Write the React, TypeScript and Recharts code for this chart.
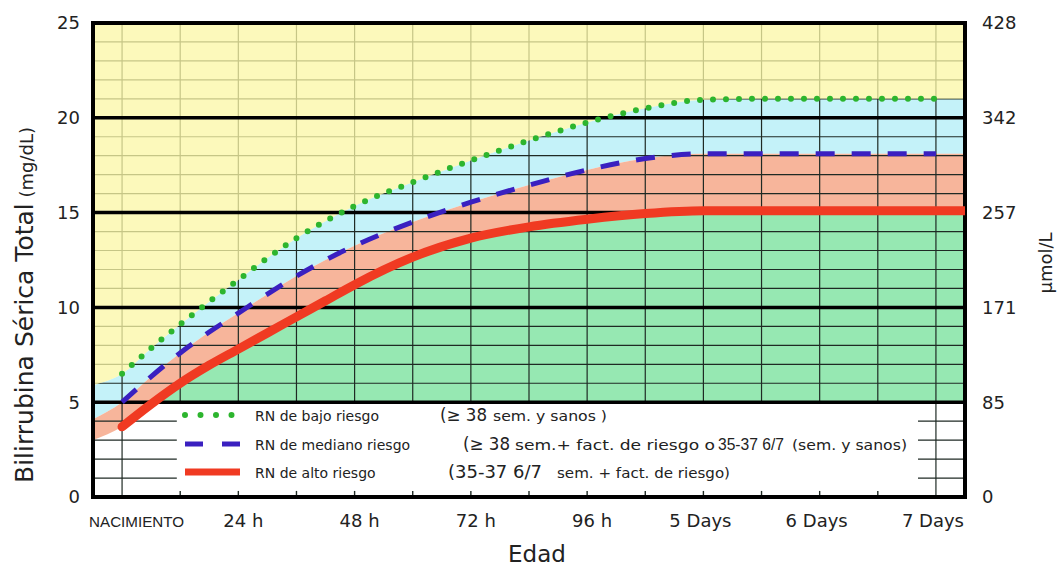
import React from 'react';
import { ComposedChart, Area, Line, XAxis, YAxis, ReferenceLine } from 'recharts';

// ---- data ----
const hours = [0, 6, 12, 18, 24, 30, 36, 42, 48, 60, 72, 84, 96, 108, 120, 132, 144, 156, 168];
const bajoRiesgo = [6.5, 7.85, 9.1, 10.3, 11.45, 12.6, 13.65, 14.55, 15.35, 16.6, 17.75, 18.8, 19.75, 20.5, 20.95, 21.0, 21.0, 21.0, 21.0];
const medianoRiesgo = [5.0, 6.35, 7.6, 8.7, 9.7, 10.7, 11.65, 12.5, 13.25, 14.5, 15.55, 16.45, 17.25, 17.85, 18.1, 18.1, 18.1, 18.1, 18.1];
const altoRiesgo = [3.7, 4.9, 6.0, 6.95, 7.8, 8.65, 9.5, 10.35, 11.2, 12.65, 13.65, 14.25, 14.65, 14.95, 15.1, 15.1, 15.1, 15.1, 15.1];

// zone edges beyond the curves (left of birth, right of 7 days)
const edgeHours = [-6, 174];
const edgeBajo = [5.9, 21.0];
const edgeMediano = [4.1, 18.1];
const edgeAlto = [3.0, 15.1];

const xTickValues = [0, 24, 48, 72, 96, 120, 144, 168];
const xTickLabels = ['NACIMIENTO', '24 h', '48 h', '72 h', '96 h', '5 Days', '6 Days', '7 Days'];
const yTickValues = [0, 5, 10, 15, 20, 25];
const umolLabels = ['0', '85', '171', '257', '342', '428'];

const thinLevels = [6, 7, 8, 9, 11, 12, 13, 14, 16, 17, 18, 19, 21, 22, 23, 24];
const lowLevels = [1, 2, 3, 4];
const thickLevels = [5, 10, 15, 20];
const midHours = [12, 24, 36, 48, 60, 72, 84, 96, 108, 120, 132, 144, 156];
const fullHours = [0, 168];

const SANS = 'DejaVu Sans';
const NARROW = 'Liberation Sans';

const legendNames = ['RN de bajo riesgo', 'RN de mediano riesgo', 'RN de alto riesgo'];
// notes: [text, x, width, fontSize, family] segments per legend row
const legendNotes: [string, number, number, number, string][][] = [
  [['(≥ 38', 440, 47, 17, SANS], ['sem. y sanos )', 493, 114, 14, SANS]],
  [['(≥ 38', 463, 47, 17, SANS], ['sem.+ fact. de riesgo o', 515, 200, 14, SANS], ['35-37 6/7', 718, 66, 17, NARROW], ['(sem. y sanos)', 792, 115, 13.5, SANS]],
  [['(35-37 6/7', 448, 94, 17, SANS], ['sem. + fact. de riesgo)', 557, 173, 14, SANS]],
];

const X_MIN = -6;
const X_MAX = 174;

type Row = {
  h: number;
  bajo: number | null;
  mediano: number | null;
  alto: number | null;
  cyan: [number, number];
  salmon: [number, number];
  greenBand: [number, number];
  yellow: [number, number];
};

const makeRow = (h: number, top: number, mid: number, low: number, bajo: number | null, mediano: number | null, alto: number | null): Row => ({
  h, bajo, mediano, alto,
  cyan: [mid, top],
  salmon: [low, mid],
  greenBand: [5, Math.max(5, low)],
  yellow: [top, 25],
});

const rows: Row[] = [
  makeRow(edgeHours[0], edgeBajo[0], edgeMediano[0], edgeAlto[0], null, null, null),
  ...hours.map((h, i) => makeRow(h, bajoRiesgo[i], medianoRiesgo[i], altoRiesgo[i], bajoRiesgo[i], medianoRiesgo[i], altoRiesgo[i])),
  makeRow(edgeHours[1], edgeBajo[1], edgeMediano[1], edgeAlto[1], null, null, edgeAlto[1]),
];

const GRID = '#1f2a24';
const GREEN = '#2db52e';
const BLUE = '#3a20c0';
const RED = '#f03a22';

const XTick = (props: any) => {
  const { x, y, payload } = props;
  const i = xTickValues.indexOf(payload.value);
  const label = xTickLabels[i];
  if (i === 0) {
    return (
      <text x={x - 33} y={y + 30} textAnchor="start" fontFamily={NARROW} fontSize={15} fill="#222" textLength={95} lengthAdjust="spacingAndGlyphs">
        {label}
      </text>
    );
  }
  const dx = label.indexOf('Days') >= 0 ? -3 : 5;
  return (
    <text x={x + dx} y={y + 30} textAnchor="middle" fontFamily={SANS} fontSize={18} fill="#222">
      {label}
    </text>
  );
};

const legendY = [415, 444, 472];

export default function App() {
  return (
    <div style={{ position: 'absolute', left: 0, top: 0, width: 1063, height: 570, background: '#fff' }}>
      <ComposedChart width={1063} height={570} data={rows} margin={{ top: 23, right: 0, bottom: 0, left: 0 }}>
        <XAxis
          dataKey="h"
          type="number"
          domain={[X_MIN, X_MAX]}
          ticks={xTickValues}
          interval={0}
          allowDataOverflow
          height={73}
          tickLine={false}
          axisLine={false}
          tickSize={0}
          tickMargin={0}
          tick={(p: any) => <XTick {...p} />}
        />
        <YAxis
          yAxisId="left"
          domain={[0, 25]}
          ticks={yTickValues}
          interval={0}
          allowDataOverflow
          width={93}
          tickLine={false}
          axisLine={false}
          tickSize={0}
          tickMargin={13}
          tick={{ fontFamily: SANS, fontSize: 18, fill: '#222' }}
        />
        <YAxis
          yAxisId="right"
          orientation="right"
          domain={[0, 25]}
          ticks={yTickValues}
          interval={0}
          allowDataOverflow
          width={98}
          tickLine={false}
          axisLine={false}
          tickSize={0}
          tickMargin={17}
          tickFormatter={(v: number) => umolLabels[yTickValues.indexOf(v)]}
          tick={{ fontFamily: SANS, fontSize: 18, fill: '#222', textAnchor: 'start' }}
        />

        {/* zones */}
        <Area yAxisId="left" dataKey="cyan" type="monotone" stroke="none" fill="#c4f2f9" fillOpacity={1} isAnimationActive={false} dot={false} activeDot={false} zIndex={101} />
        <Area yAxisId="left" dataKey="salmon" type="monotone" stroke="none" fill="#f7b59b" fillOpacity={1} isAnimationActive={false} dot={false} activeDot={false} zIndex={102} />
        <Area yAxisId="left" dataKey="greenBand" type="monotone" stroke="none" fill="#96e8b2" fillOpacity={1} isAnimationActive={false} dot={false} activeDot={false} zIndex={103} />

        {/* thin grid */}
        {thinLevels.map((lv) => (
          <ReferenceLine key={'t' + lv} yAxisId="left" y={lv} stroke={GRID} strokeWidth={1.2} ifOverflow="visible" zIndex={110} />
        ))}
        {lowLevels.map((lv) => (
          <ReferenceLine key={'la' + lv} yAxisId="left" segment={[{ x: X_MIN, y: lv }, { x: 11.3, y: lv }]} stroke={GRID} strokeWidth={1.2} ifOverflow="visible" zIndex={110} />
        ))}
        {lowLevels.map((lv) => (
          <ReferenceLine key={'lb' + lv} yAxisId="left" segment={[{ x: 164.3, y: lv }, { x: X_MAX, y: lv }]} stroke={GRID} strokeWidth={1.2} ifOverflow="visible" zIndex={110} />
        ))}
        {midHours.map((h) => (
          <ReferenceLine key={'v' + h} yAxisId="left" segment={[{ x: h, y: 5 }, { x: h, y: 25 }]} stroke={GRID} strokeWidth={1.2} ifOverflow="visible" zIndex={110} />
        ))}
        {midHours.map((h) => (
          <ReferenceLine key={'k' + h} yAxisId="left" segment={[{ x: h, y: 0 }, { x: h, y: 0.32 }]} stroke={GRID} strokeWidth={1.4} ifOverflow="visible" zIndex={110} />
        ))}
        {fullHours.map((h) => (
          <ReferenceLine key={'f' + h} yAxisId="left" x={h} stroke={GRID} strokeWidth={1.2} ifOverflow="visible" zIndex={110} />
        ))}

        {/* yellow zone above the low-risk curve (tints the grid beneath it) */}
        <Area yAxisId="left" dataKey="yellow" type="monotone" stroke="none" fill="#fbf7a6" fillOpacity={0.76} isAnimationActive={false} dot={false} activeDot={false} zIndex={120} />

        {/* thick lines and frame */}
        {thickLevels.map((lv) => (
          <ReferenceLine key={'T' + lv} yAxisId="left" y={lv} stroke="#000" strokeWidth={3.5} ifOverflow="visible" zIndex={130} />
        ))}
        <ReferenceLine yAxisId="left" y={0} stroke="#000" strokeWidth={4} strokeLinecap="square" ifOverflow="visible" zIndex={131} />
        <ReferenceLine yAxisId="left" y={25} stroke="#000" strokeWidth={4} strokeLinecap="square" ifOverflow="visible" zIndex={131} />
        <ReferenceLine yAxisId="left" x={X_MIN} stroke="#000" strokeWidth={4} strokeLinecap="square" ifOverflow="visible" zIndex={131} />
        <ReferenceLine yAxisId="left" x={X_MAX} stroke="#000" strokeWidth={4} strokeLinecap="square" ifOverflow="visible" zIndex={131} />

        {/* curves */}
        <Line yAxisId="left" dataKey="bajo" type="monotone" stroke={GREEN} strokeWidth={6} strokeDasharray="0 13" strokeLinecap="round" dot={false} activeDot={false} isAnimationActive={false} zIndex={140} />
        <Line yAxisId="left" dataKey="mediano" type="monotone" stroke={BLUE} strokeWidth={5} strokeDasharray="19 17" dot={false} activeDot={false} isAnimationActive={false} zIndex={141} />
        <Line yAxisId="left" dataKey="alto" type="monotone" stroke={RED} strokeWidth={9} strokeLinecap="round" dot={false} activeDot={false} isAnimationActive={false} zIndex={142} />
      </ComposedChart>

      {/* titles and legend */}
      <svg width={1063} height={570} style={{ position: 'absolute', left: 0, top: 0, pointerEvents: 'none' }}>
        <text transform="translate(33, 483) rotate(-90)" textAnchor="start" fontFamily={SANS} fontSize={25} fill="#222">
          Bilirrubina Sérica Total<tspan fontSize={18}> (mg/dL)</tspan>
        </text>
        <text transform="translate(1052, 263) rotate(-90)" textAnchor="middle" fontFamily={SANS} fontSize={18} fill="#222">
          µmol/L
        </text>
        <text x={537} y={562} textAnchor="middle" fontFamily={SANS} fontSize={23} fill="#222">
          Edad
        </text>

        <line x1={185} y1={legendY[0]} x2={232} y2={legendY[0]} stroke={GREEN} strokeWidth={6} strokeDasharray="0 15.5" strokeLinecap="round" />
        <line x1={185} y1={legendY[1]} x2={240} y2={legendY[1]} stroke={BLUE} strokeWidth={5} strokeDasharray="18 19" />
        <line x1={185} y1={legendY[2]} x2={240} y2={legendY[2]} stroke={RED} strokeWidth={7} />

        <g fill="#222">
          {legendNames.map((n, i) => (
            <text key={n} x={255} y={legendY[i] + 6} fontFamily={SANS} fontSize={14}>{n}</text>
          ))}
          {legendNotes.map((segs, i) =>
            segs.map(([t, x, w, fs, fam]) => (
              <text key={i + t + x} x={x} y={legendY[i] + 6} fontFamily={fam} fontSize={fs} textLength={w} lengthAdjust="spacingAndGlyphs">
                {t}
              </text>
            ))
          )}
        </g>
      </svg>
    </div>
  );
}
